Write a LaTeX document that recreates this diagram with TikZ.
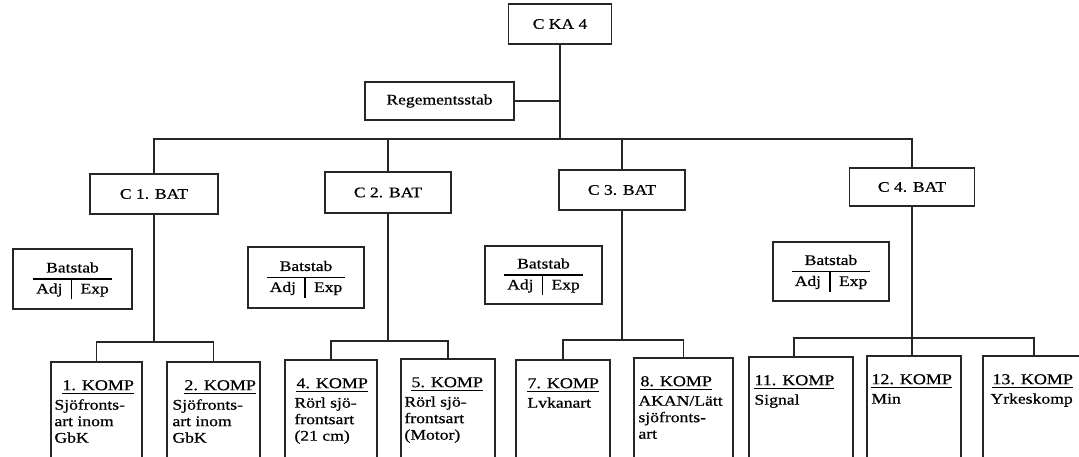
\documentclass[tikz,border=0pt]{standalone}
\usepackage{fontspec}
\setmainfont{Liberation Serif}[FakeStretch=1.2,FakeBold=0.6]
\newcommand\myul[1]{\setbox0\hbox{#1}\rlap{\rule[-4pt]{\wd0}{1.3pt}}\box0}
\newcommand\kh[1]{{\fontsize{15}{16.5}\selectfont\myul{#1}}}
\begin{document}
\begin{tikzpicture}[x=1pt,y=-1pt,
  box/.style={draw=black!85,line width=1.5pt,inner sep=0pt,fill=white},
  lbl/.style={font=\fontsize{14.6}{16.5}\selectfont},
  txt/.style={font=\fontsize{14.7}{16.5}\selectfont,align=left,anchor=north west,inner sep=0pt},
  wire/.style={draw=black!85,line width=1.5pt},
  kbox/.style={box,anchor=north,minimum height=130pt}]
\clip (0,0) rectangle (1079,456);
\fill[white] (0,0) rectangle (1079,456);
\setlength{\arrayrulewidth}{1.2pt}
\setlength{\tabcolsep}{9pt}
\renewcommand{\arraystretch}{1.2}

% top level
\node[box,lbl,minimum width=103pt,minimum height=40pt] (ka) at (560,24) {C KA 4};
\node[box,lbl,minimum width=149pt,minimum height=38pt] (reg) at (439.5,101) {Regementsstab};

% battalions
\node[box,lbl,minimum width=128pt,minimum height=40pt] (c1) at (154,194) {C 1. BAT};
\node[box,lbl,minimum width=126pt,minimum height=41pt] (c2) at (388,192.5) {C 2. BAT};
\node[box,lbl,minimum width=126pt,minimum height=40pt] (c3) at (622,190) {C 3. BAT};
\node[box,lbl,minimum width=125pt,minimum height=38pt] (c4) at (912,187) {C 4. BAT};

% battalion staffs
\node[box,lbl,minimum width=119pt,minimum height=60pt] (bs1) at (72.5,279)
  {\begin{tabular}{@{\hspace{3pt}}c|c@{\hspace{3pt}}}\multicolumn{2}{c}{Batstab}\\\hline Adj & Exp\end{tabular}};
\node[box,lbl,minimum width=116pt,minimum height=61pt] (bs2) at (306,277.5)
  {\begin{tabular}{@{\hspace{3pt}}c|c@{\hspace{3pt}}}\multicolumn{2}{c}{Batstab}\\\hline Adj & Exp\end{tabular}};
\node[box,lbl,minimum width=117pt,minimum height=58pt] (bs3) at (543.5,275)
  {\begin{tabular}{@{\hspace{3pt}}c|c@{\hspace{3pt}}}\multicolumn{2}{c}{Batstab}\\\hline Adj & Exp\end{tabular}};
\node[box,lbl,minimum width=116pt,minimum height=59pt] (bs4) at (831,271.5)
  {\begin{tabular}{@{\hspace{3pt}}c|c@{\hspace{3pt}}}\multicolumn{2}{c}{Batstab}\\\hline Adj & Exp\end{tabular}};

% companies
\node[kbox,minimum width=91pt] (k1) at (96.5,361) {};
\node[kbox,minimum width=93pt] (k2) at (213.5,361) {};
\node[kbox,minimum width=92pt] (k4) at (331,359) {};
\node[kbox,minimum width=94pt] (k5) at (448,358) {};
\node[kbox,minimum width=94pt] (k7) at (563,359) {};
\node[kbox,minimum width=99pt] (k8) at (683.5,357) {};
\node[kbox,minimum width=104pt] (k11) at (801,356) {};
\node[kbox,minimum width=94pt] (k12) at (914,355) {};
\node[kbox,minimum width=102pt] (k13) at (1034,355) {};

\node[txt] (t1) at ([shift={(4pt,-19pt)}]k1.north west) {\hspace*{8pt}\kh{1. KOMP}\\[3pt]Sjöfronts-\\art inom\\GbK};
\node[txt] (t2) at ([shift={(6pt,-19pt)}]k2.north west) {\hspace*{12pt}\kh{2. KOMP}\\[3pt]Sjöfronts-\\art inom\\GbK};
\node[txt] (t4) at ([shift={(10pt,-19pt)}]k4.north west) {\hspace*{2pt}\kh{4. KOMP}\\[3pt]Rörl sjö-\\frontsart\\(21 cm)};
\node[txt] (t5) at ([shift={(4pt,-19pt)}]k5.north west) {\hspace*{7pt}\kh{5. KOMP}\\[3pt]Rörl sjö-\\frontsart\\(Motor)};
\node[txt] (t7) at ([shift={(12pt,-19pt)}]k7.north west) {\kh{7. KOMP}\\[3pt]Lvkanart};
\node[txt] (t8) at ([shift={(5pt,-19pt)}]k8.north west) {\hspace*{2pt}\kh{8. KOMP}\\[3pt]AKAN/Lätt\\sjöfronts-\\art};
\node[txt] (t11) at ([shift={(6pt,-19pt)}]k11.north west) {\kh{11. KOMP}\\[3pt]Signal};
\node[txt] (t12) at ([shift={(5pt,-19pt)}]k12.north west) {\kh{12. KOMP}\\[3pt]Min};
\node[txt] (t13) at ([shift={(8pt,-19pt)}]k13.north west) {\hspace*{2pt}\kh{13. KOMP}\\[3pt]Yrkeskomp};

% connectors
\coordinate (busy) at (0,139);
\coordinate (b1) at (0,342);
\coordinate (b2) at (0,341);
\coordinate (b3) at (0,340);
\coordinate (b4) at (0,338);
\draw[wire] (ka.south) -- (ka.south |- busy);
\draw[wire] (reg.east) -- (reg.east -| ka.south);
\draw[wire] (c1.north) -- (c1.north |- busy) -- (c4.north |- busy) -- (c4.north);
\draw[wire] (c2.north) -- (c2.north |- busy);
\draw[wire] (c3.north) -- (c3.north |- busy);

\draw[wire] (c1.south) -- (c1.south |- b1);
\draw[wire] (k1.north) -- (k1.north |- b1) -- (k2.north |- b1) -- (k2.north);
\draw[wire] (c2.south) -- (c2.south |- b2);
\draw[wire] (k4.north) -- (k4.north |- b2) -- (k5.north |- b2) -- (k5.north);
\draw[wire] (c3.south) -- (c3.south |- b3);
\draw[wire] (k7.north) -- (k7.north |- b3) -- (k8.north |- b3) -- (k8.north);
\draw[wire] (c4.south) -- (c4.south |- k12.north);
\draw[wire] ([xshift=-7pt]k11.north) -- ([xshift=-7pt]k11.north |- b4) -- (k13.north |- b4) -- (k13.north);
\end{tikzpicture}
\end{document}
